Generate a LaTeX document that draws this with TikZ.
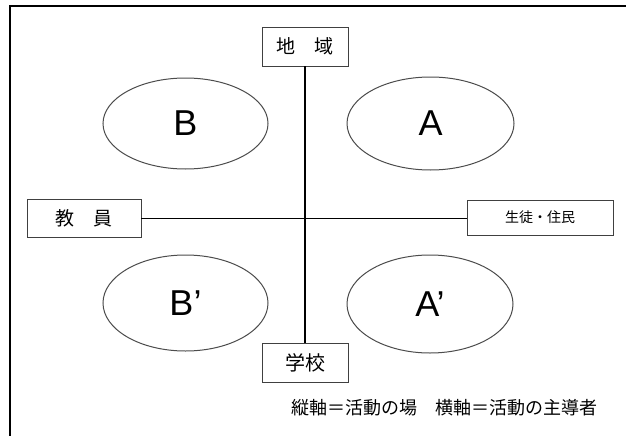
\documentclass[tikz,border=0pt]{standalone}
\usepackage{fontspec}
\setmainfont{Liberation Sans}
\newfontfamily\jp{Noto Sans CJK JP}
\usetikzlibrary{shapes.geometric}
\begin{document}
\begin{tikzpicture}[x=1pt,y=-1pt,
  labelbox/.style={draw=black!75,line width=0.9pt,inner sep=0pt,fill=white},
  quad/.style={ellipse,draw=black!70,line width=1pt,inner sep=0pt,font=\fontsize{36}{36}\selectfont},
  axis/.style={line width=1.5pt,black}]
\useasboundingbox (0,0) rectangle (626,436);
\fill[white] (0,0) rectangle (626,436);
\draw[line width=2pt] (10,436) -- (10,6) -- (626,6);
\node[labelbox,minimum width=86pt,minimum height=39pt,font=\jp\fontsize{19}{19}\selectfont] (chiiki) at (305,46.5) {地　域};
\node[labelbox,minimum width=114pt,minimum height=38pt,font=\jp\fontsize{19}{19}\selectfont] (kyoin) at (84,218.5) {教　員};
\node[labelbox,minimum width=146pt,minimum height=35pt,font=\jp\fontsize{14}{14}\selectfont] (seito) at (540,217.5) {生徒・住民};
\node[labelbox,minimum width=86pt,minimum height=39pt,font=\jp\fontsize{20}{20}\selectfont] (gakko) at (305,362.5) {学校};
\draw[axis] (chiiki.south) -- (gakko.north);
\draw[axis] (kyoin.east) -- (kyoin.east -| seito.west);
\node[quad,minimum width=165pt,minimum height=91pt] (B) at (185.5,123.5) {B};
\node[quad,minimum width=167pt,minimum height=93pt] (A) at (430.5,123.5) {A};
\node[quad,minimum width=165pt,minimum height=96pt] (Bp) at (185.5,303) {B’};
\node[quad,minimum width=166pt,minimum height=98pt] (Ap) at (430,304) {A’};
\node[anchor=west,inner sep=0pt,font=\jp\fontsize{18}{18}\selectfont] (cap) at (291,408) {縦軸＝活動の場　横軸＝活動の主導者};
\end{tikzpicture}
\end{document}
